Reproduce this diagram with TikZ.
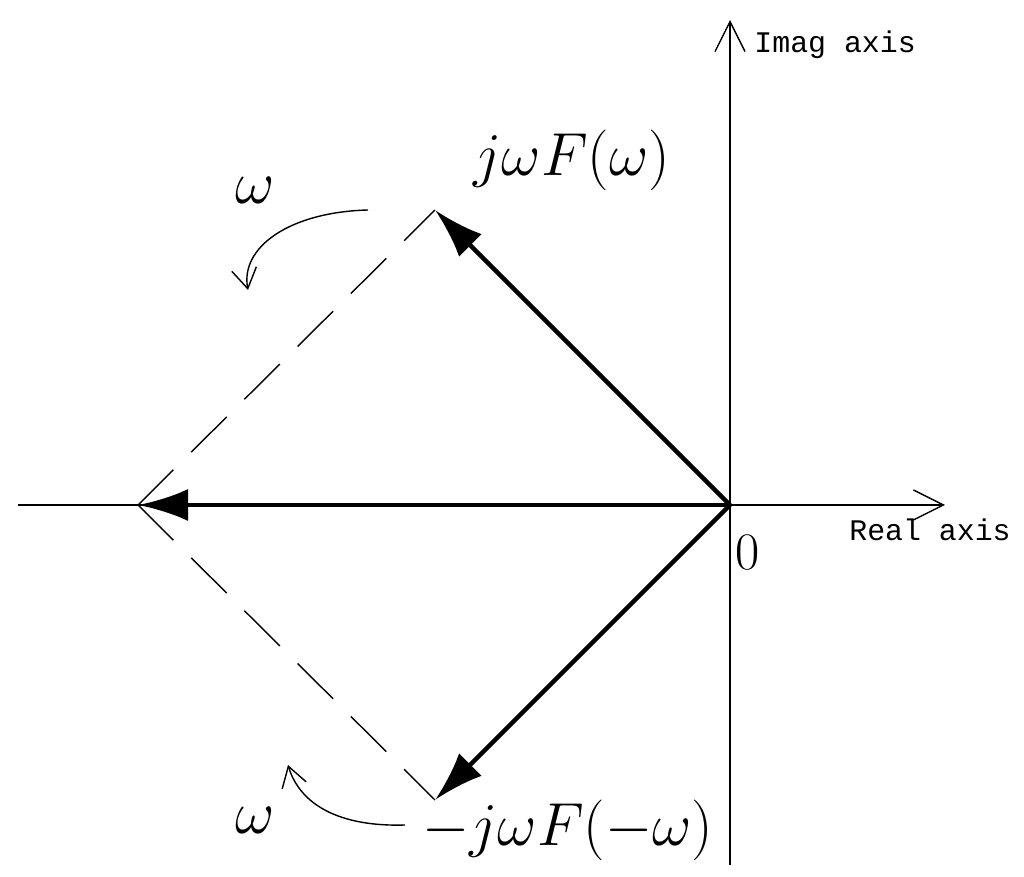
\documentclass[tikz,border=0pt]{standalone}
\usepackage{fontspec}
\setmonofont{Liberation Mono}
\usetikzlibrary{arrows.meta}
\tikzset{
  axis/.style={thin, -{Straight Barb[length=3mm,width=3mm]}},
  vec/.style={line width=1.3pt, -{Latex[length=5mm,width=3.2mm]}},
  guide/.style={thin, dash pattern=on 5mm off 2.5mm},
  turn/.style={thin, -{Straight Barb[length=2mm,width=2.5mm]}},
  axlabel/.style={font=\fontsize{8.5}{10}\selectfont\ttfamily},
  biglabel/.style={font=\fontsize{17}{20}\selectfont}
}
\begin{document}
\begin{tikzpicture}
    \useasboundingbox (0,0) rectangle (10.24,8.77);
    \coordinate (o) at (7.30,3.72);
    \coordinate (up) at (4.35,6.67);
    \coordinate (down) at (4.35,0.77);
    \coordinate (left) at (1.38,3.72);
    \coordinate (xs) at (0.18,3.72);
    \coordinate (xe) at (9.45,3.72);
    \coordinate (ys) at (7.30,0.12);
    \coordinate (ye) at (7.30,8.57);

    % axes
    \draw[axis] (xs) -- (xe);
    \draw[axis] (ys) -- (ye);
    \node[axlabel, anchor=west] (imag) at (7.42,8.32) {Imag axis};
    \node[axlabel] (real) at (9.30,3.47) {Real axis};
    \node[biglabel, font=\fontsize{15}{18}\selectfont] (zero) at (7.48,3.24) {0};

    % parallelogram
    \draw[guide] (left) -- (up);
    \draw[guide] (left) -- (down);
    \draw[vec] (o) -- (up);
    \draw[vec] (o) -- (down);
    \draw[vec] (o) -- (left);

    \node[biglabel] (pos) at (5.72,7.17) {$j\omega F(\omega)$};
    \node[biglabel] (neg) at (5.68,0.47) {$-j\omega F(-\omega)$};

    % rotation hints
    \node[biglabel] (wup) at (2.55,6.87) {$\omega$};
    \node[biglabel] (wdn) at (2.55,0.57) {$\omega$};
    \draw[turn] (3.68,6.67) .. controls (2.90,6.65) and (2.40,6.30) .. (2.48,5.87);
    \draw[turn] (4.05,0.52) .. controls (3.40,0.50) and (3.00,0.72) .. (2.88,1.12);
\end{tikzpicture}
\end{document}
